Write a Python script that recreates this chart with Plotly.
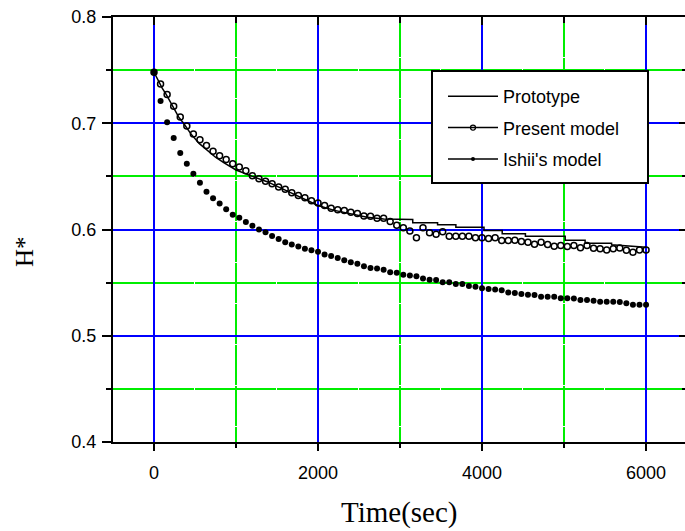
import plotly.graph_objects as go

# ---------------- data ----------------
time_s = [0, 80, 160, 240, 320, 400, 480, 560, 640, 720, 800, 880, 960, 1040, 1120,
          1200, 1280, 1360, 1440, 1520, 1600, 1680, 1760, 1840, 1920, 2000, 2080, 2160,
          2240, 2320, 2400, 2480, 2560, 2640, 2720, 2800, 2880, 2960, 3040, 3120, 3200,
          3280, 3360, 3440, 3520, 3600, 3680, 3760, 3840, 3920, 4000, 4080, 4160, 4240,
          4320, 4400, 4480, 4560, 4640, 4720, 4800, 4880, 4960, 5040, 5120, 5200, 5280,
          5360, 5440, 5520, 5600, 5680, 5760, 5840, 5920, 6000]

ishii_h = [0.748, 0.721, 0.701, 0.686, 0.672, 0.662, 0.6525, 0.644, 0.6355, 0.6295,
           0.6245, 0.619, 0.614, 0.611, 0.607, 0.6035, 0.600, 0.5975, 0.594, 0.591,
           0.588, 0.586, 0.584, 0.582, 0.5805, 0.579, 0.5765, 0.575, 0.5732, 0.571,
           0.5692, 0.5678, 0.5655, 0.5638, 0.5632, 0.562, 0.5598, 0.5594, 0.5575, 0.5566,
           0.556, 0.554, 0.5526, 0.5524, 0.5503, 0.5503, 0.5488, 0.5486, 0.5469, 0.5462,
           0.5446, 0.544, 0.5435, 0.5428, 0.5408, 0.5403, 0.5393, 0.5387, 0.5384, 0.5368,
           0.5368, 0.5366, 0.5352, 0.5352, 0.535, 0.5337, 0.5336, 0.533, 0.532, 0.532,
           0.532, 0.5318, 0.5305, 0.5292, 0.5292, 0.5292]

present_h = [0.748, 0.737, 0.727, 0.716, 0.706, 0.6975, 0.690, 0.6845, 0.679, 0.6736,
             0.6695, 0.666, 0.662, 0.6588, 0.6553, 0.6505, 0.6478, 0.6455, 0.643, 0.640,
             0.638, 0.6345, 0.632, 0.6298, 0.627, 0.625, 0.6226, 0.620, 0.6186, 0.618,
             0.6163, 0.615, 0.6128, 0.6125, 0.6106, 0.6107, 0.6075, 0.604, 0.6016, 0.5985,
             0.5922, 0.6016, 0.597, 0.5955, 0.598, 0.5937, 0.5937, 0.5937, 0.5937, 0.5922,
             0.5922, 0.5915, 0.5922, 0.5896, 0.5896, 0.590, 0.5887, 0.588, 0.5862, 0.588,
             0.5858, 0.5843, 0.585, 0.584, 0.585, 0.5828, 0.585, 0.5824, 0.5818, 0.5808,
             0.5818, 0.5827, 0.5805, 0.5786, 0.5808, 0.5808]

proto_t = [0, 50, 100, 150, 200, 250, 300, 360, 450, 550, 650, 750, 850, 1000, 1200,
           1380, 1600, 1800, 2000, 2200, 2400, 2600, 2800, 3000, 3155, 3155, 3458, 3458,
           3681, 3681, 4024, 4024, 4246, 4246, 4529, 4529, 5014, 5014, 5257, 5257, 5580,
           5580, 6000]
proto_h = [0.748, 0.740, 0.733, 0.727, 0.720, 0.712, 0.706, 0.700, 0.690, 0.681, 0.6745,
           0.668, 0.663, 0.656, 0.650, 0.645, 0.637, 0.630, 0.6226, 0.618, 0.6145, 0.6115,
           0.6098, 0.6094, 0.6094, 0.6063, 0.6063, 0.6044, 0.6044, 0.6022, 0.6022, 0.599,
           0.599, 0.596, 0.596, 0.5937, 0.5937, 0.590, 0.590, 0.587, 0.587, 0.5856, 0.5833]

series_names = ["Prototype", "Present model", "Ishii's model"]
x_ticks = [0, 2000, 4000, 6000]
y_ticks = [0.4, 0.5, 0.6, 0.7, 0.8]
y_tick_text = ["0.4", "0.5", "0.6", "0.7", "0.8"]
x_title = "Time(sec)"
y_title = "H*"

# ---------------- layout constants ----------------
W, H = 685, 531
ML, MR, MT, MB = 113, 0, 17, 89
X_RANGE = [-500, 6475]
Y_RANGE = [0.4, 0.8]
BLUE = "#0000ff"
GREEN = "#00ee00"
TICKFONT = dict(family="Liberation Sans, Arial, sans-serif", size=18, color="black")
SERIF = "Liberation Serif, Times New Roman, serif"
PW, PH = W - ML - MR, H - MT - MB


def px_x(p):
    return (p - ML) / PW


def px_y(p):
    return (H - MB - p) / PH


fig = go.Figure()

# data traces (no legend)
fig.add_trace(go.Scatter(x=proto_t, y=proto_h, mode="lines",
                         line=dict(color="black", width=1.5),
                         showlegend=False, hoverinfo="skip"))
fig.add_trace(go.Scatter(x=time_s, y=present_h, mode="markers",
                         marker=dict(symbol="circle-open", size=6, color="black",
                                     line=dict(width=1.5, color="black")),
                         showlegend=False, hoverinfo="skip"))
fig.add_trace(go.Scatter(x=time_s, y=ishii_h, mode="markers",
                         marker=dict(symbol="circle", size=6, color="black"),
                         showlegend=False, hoverinfo="skip"))

# legend entries (line + small marker, as in the reference legend)
fig.add_trace(go.Scatter(x=[None], y=[None], mode="lines", name=series_names[0],
                         line=dict(color="black", width=1.5), legendgroup="a"))
fig.add_trace(go.Scatter(x=[None], y=[None], mode="lines+markers", name=series_names[1],
                         line=dict(color="black", width=1.5),
                         marker=dict(symbol="circle-open", size=5, color="black",
                                     line=dict(width=1.3)), legendgroup="b"))
fig.add_trace(go.Scatter(x=[None], y=[None], mode="lines+markers", name=series_names[2],
                         line=dict(color="black", width=1.5),
                         marker=dict(symbol="circle", size=4, color="black"),
                         legendgroup="c"))

# helper trace for the mirrored top / right axes
fig.add_trace(go.Scatter(x=[None], y=[None], xaxis="x2", yaxis="y2",
                         showlegend=False, hoverinfo="skip"))

fig.update_layout(
    width=W, height=H,
    margin=dict(l=ML, r=MR, t=MT, b=MB, autoexpand=False),
    paper_bgcolor="white", plot_bgcolor="white",
    xaxis=dict(range=X_RANGE, tickvals=x_ticks, ticks="outside", ticklen=7,
               tickwidth=2, tickcolor="black", showline=True, linewidth=2,
               linecolor="black", showgrid=True, gridcolor=BLUE, gridwidth=1.5,
               zeroline=False, tickfont=TICKFONT, ticklabelstandoff=6, automargin=False,
               minor=dict(dtick=1000, tick0=1000, ticks="outside", ticklen=4,
                          tickwidth=2, tickcolor="black", showgrid=True,
                          gridcolor=GREEN, gridwidth=1.5, griddash="40px,1px")),
    yaxis=dict(range=Y_RANGE, tickvals=y_ticks, ticktext=y_tick_text, ticks="outside",
               ticklen=9, tickwidth=2, tickcolor="black", showline=True, linewidth=2,
               linecolor="black", showgrid=True, gridcolor=BLUE, gridwidth=1.5,
               zeroline=False, tickfont=TICKFONT, ticklabelstandoff=2, automargin=False,
               minor=dict(dtick=0.1, tick0=0.45, ticks="outside", ticklen=5,
                          tickwidth=2, tickcolor="black", showgrid=True,
                          gridcolor=GREEN, gridwidth=1.5, griddash="40px,1px")),
    xaxis2=dict(range=X_RANGE, overlaying="x", side="top", tickvals=x_ticks,
                ticks="inside", ticklen=8, tickwidth=2, tickcolor="black",
                showticklabels=False, showline=True, linewidth=2, linecolor="black",
                showgrid=False, zeroline=False, automargin=False,
                minor=dict(dtick=1000, tick0=1000, ticks="inside", ticklen=6,
                           tickwidth=2, tickcolor="black", showgrid=False)),
    yaxis2=dict(range=Y_RANGE, overlaying="y", side="right", tickvals=y_ticks,
                ticks="inside", ticklen=6, tickwidth=2, tickcolor="black",
                showticklabels=False, showline=False, showgrid=False, zeroline=False,
                automargin=False,
                minor=dict(dtick=0.1, tick0=0.45, ticks="inside", ticklen=3,
                           tickwidth=2, tickcolor="black", showgrid=False)),
    legend=dict(x=px_x(432), y=px_y(78),
                xanchor="left", yanchor="top", bgcolor="rgba(0,0,0,0)",
                borderwidth=0, traceorder="grouped", tracegroupgap=5,
                indentation=11, itemwidth=50,
                font=dict(family="Liberation Sans, Arial, sans-serif", size=18,
                          color="black")),
    shapes=[dict(type="rect", xref="paper", yref="paper", layer="above",
                 x0=px_x(432), x1=px_x(648), y0=px_y(183), y1=px_y(71),
                 fillcolor="white", line=dict(color="black", width=2))],
    annotations=[
        dict(text=x_title, xref="paper", yref="paper", x=0.5, y=px_y(512),
             xanchor="center", yanchor="middle", showarrow=False,
             font=dict(family=SERIF, size=29, color="black")),
        dict(text=y_title, xref="paper", yref="paper", x=px_x(24), y=px_y(252),
             xanchor="center", yanchor="middle", textangle=-90, showarrow=False,
             font=dict(family=SERIF, size=25, color="black")),
    ],
)

fig.write_html("out.html",
               config={"displayModeBar": False},
               post_script="document.body.style.margin='0px';"
                           "document.body.style.overflow='hidden';")
